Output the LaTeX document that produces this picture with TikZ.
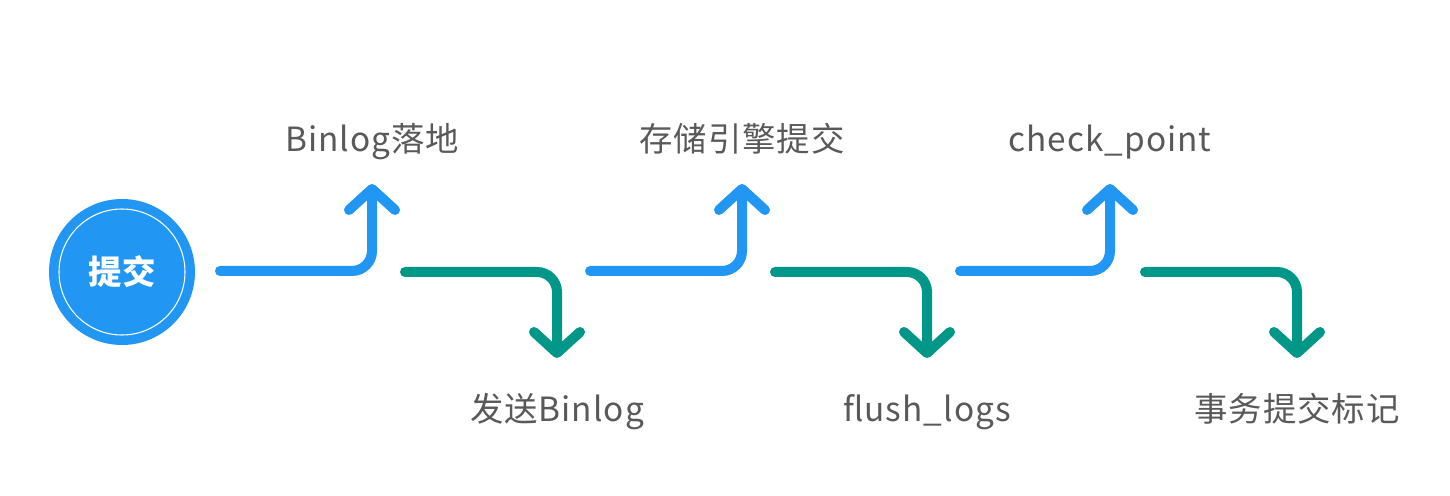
\documentclass[tikz,border=0pt]{standalone}
\usepackage{fontspec}
\setmainfont{Noto Sans CJK SC}
\newfontfamily\labelfont[LetterSpace=3]{Noto Sans CJK SC}
\usetikzlibrary{arrows.meta}
\definecolor{flowblue}{HTML}{2196F3}
\definecolor{flowgreen}{HTML}{009688}
\definecolor{labelgray}{HTML}{595959}
\tikzset{
  upflow/.style={flowblue,line width=0.2cm,line cap=round,
    rounded corners=0.4cm,-{Straight Barb[round,length=0.42cm,width=0.92cm]}},
  downflow/.style={upflow,flowgreen},
  steplabel/.style={anchor=base,text=labelgray,font=\labelfont\fontsize{19}{21}\selectfont,inner sep=0pt}
}
\begin{document}
\begin{tikzpicture}[x=0.02cm,y=-0.02cm]
\useasboundingbox[fill=white] (0,0) rectangle (1450,496);
% start button
\node[circle,fill=flowblue,minimum size=2.92cm,inner sep=0pt] (commit) at (122,272) {};
\draw[white,line width=0.6pt] (commit.center) circle (63);
\node[text=white,font=\fontsize{19}{21}\selectfont\bfseries] at (commit.center) {提交};
% labels
\node[steplabel] (binlog) at (372,152) {Binlog落地};
\node[steplabel] (engine) at (742,152) {存储引擎提交};
\node[steplabel] (ckpt) at (1110,152) {check\_point};
\node[steplabel] (send) at (557,421) {发送Binlog};
\node[steplabel] (flush) at (927,421) {flush\_logs};
\node[steplabel] (mark) at (1297,421) {事务提交标记};
% arrow ends
\coordinate (b1) at (220,271);  \coordinate (t1) at (372,184);
\coordinate (g1) at (405,272);  \coordinate (u1) at (557,358);
\coordinate (b2) at (590,271);  \coordinate (t2) at (742,184);
\coordinate (g2) at (775,272);  \coordinate (u2) at (927,358);
\coordinate (b3) at (960,271);  \coordinate (t3) at (1110,184);
\coordinate (g3) at (1145,272); \coordinate (u3) at (1297,358);
\draw[upflow] (b1) -| (t1);
\draw[downflow] (g1) -| (u1);
\draw[upflow] (b2) -| (t2);
\draw[downflow] (g2) -| (u2);
\draw[upflow] (b3) -| (t3);
\draw[downflow] (g3) -| (u3);
\end{tikzpicture}
\end{document}
